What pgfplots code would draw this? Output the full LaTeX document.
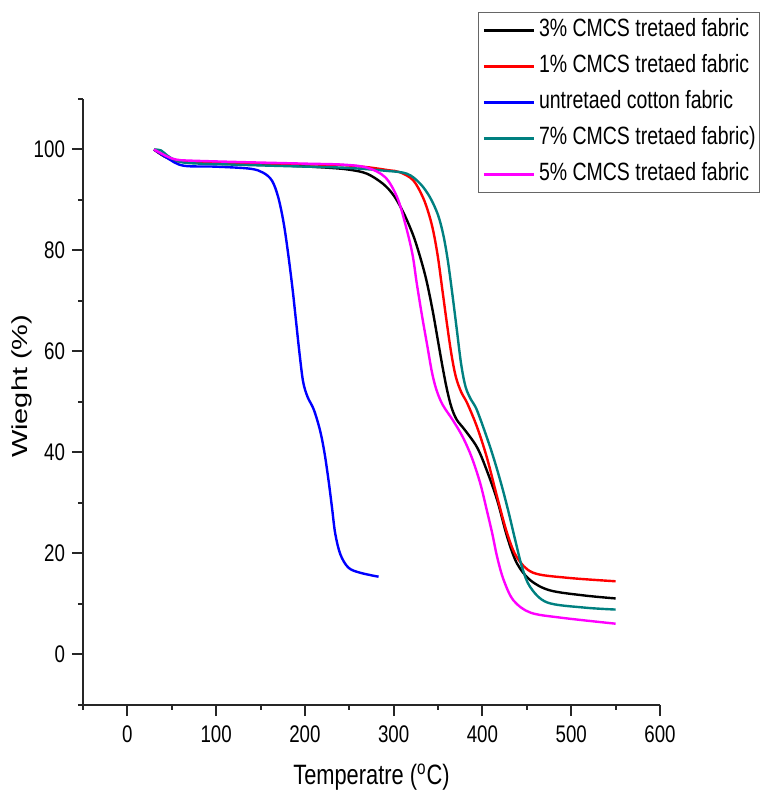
\documentclass[border=0pt]{standalone}
\usepackage{fontspec}
\setmainfont{Liberation Sans}[FakeStretch=0.78]
\newfontfamily\ylfont{Liberation Sans}
\usepackage{pgfplots}
\pgfplotsset{compat=1.18}

\definecolor{tealc}{RGB}{0,128,128}
\definecolor{magc}{RGB}{255,0,255}

\begin{document}
\begin{tikzpicture}
\begin{axis}[
    scale only axis,
    width=288.5pt, height=303pt,
    xmin=-50, xmax=600,
    ymin=-10, ymax=110,
    axis x line*=bottom, axis y line*=left,
    axis line style={-, line width=1pt, black!85},
    tick align=outside,
    tick style={line width=1pt, black!85},
    major tick length=5.5pt,
    minor tick length=2.5pt,
    xtick={0,100,...,600},
    ytick={0,20,...,100},
    minor xtick={-50,50,...,550},
    minor ytick={-10,10,...,110},
    /pgf/number format/assume math mode=true,
    tick label style={font=\fontsize{12}{14}\selectfont},
    xticklabel style={yshift=-1.5pt},
    xlabel={Temperatre (\textsuperscript{o}C)},
    ylabel={Wieght (\%)},
    xlabel style={at={(axis description cs:0.5,-0.119)}, anchor=center,
        font=\fontsize{14}{16}\selectfont},
    ylabel style={at={(axis description cs:-0.106,0.526)}, anchor=center,
        rotate=0, yscale=0.75, font=\ylfont\fontsize{14.5}{16}\selectfont},
    legend cell align=left,
    legend image code/.code={\draw[#1] (0pt,0pt) -- (25pt,0pt);},
    legend style={at={(axis description cs:0.6846,1.1436)}, anchor=north west,
        draw=black!60, line width=0.6pt,
        font=\fontsize{12.5}{15}\selectfont,
        inner xsep=2pt, inner ysep=3pt,
        row sep=6pt, column sep=2pt,
        nodes={inner sep=0pt, text height=9pt, text depth=3pt}},
    every axis plot/.append style={line width=1.2pt, smooth, tension=0.55},
]
\coordinate (bl) at (rel axis cs:0,0);

% 3% CMCS
\addplot[black] coordinates {
(30,100) (42,98.6) (55,97.8) (80,97.4) (120,97.1) (180,96.8) (225,96.4)
(250,96.0) (270,95.2) (288,93.2) (300,90.9) (311,87.5) (322,83) (330,78.6)
(337,74) (344,68) (350,62) (355,57) (360,52.5) (365,49) (371,46.5)
(380,44.5) (394,41) (405,36.4) (416.7,30.5) (428,23.2) (439,18) (454,14.7)
(476,12.7) (514,11.7) (550,11.1)};

% 1% CMCS
\addplot[red] coordinates {
(30,100) (40,98.8) (50,98) (60,97.6) (100,97.4) (160,97.2) (220,97.0)
(243,96.9) (270,96.5) (294,95.9) (307,95.5) (322,93.9) (333,90.5)
(340,87) (345,83.5) (350,78.5) (355,72) (360,65.5) (365,59.5) (370,55)
(376,52) (383,49.7) (394,45) (405,39) (416.7,31.1) (428,23.9)
(439,19.2) (457,16.2) (495,15.2) (550,14.5)};

% untreated
\addplot[blue] coordinates {
(30,100) (45,98.3) (63,96.8) (100,96.6) (138,96.2) (153,95.4) (163,93.8)
(170,90.5) (176,85.5) (181,79.5) (186,72.5) (190,66) (194,59.5)
(198,54) (203,51) (210,48.5) (217,44.4) (222,40) (226.6,34.5)
(230.5,29.1) (234.2,23.9) (240,19.8) (249,17.2) (262,16.2) (283,15.4)};

% 7% CMCS
\addplot[tealc] coordinates {
(30,100) (38,99.8) (45,98.8) (55,97.8) (70,97.3) (120,97.0) (180,96.7)
(243,96.4) (290,95.8) (315,95.2) (330,93.2) (341,90.5) (350,87)
(356,83) (361,78) (366,71.5) (371,64.5) (376,57.5) (381,53)
(387,50.5) (394,48.3) (408.8,41) (420,34.5) (429,28.5) (437,22.6)
(444.8,17.2) (454,13.3) (473,10.3) (514,9.3) (550,8.9)};

% 5% CMCS
\addplot[magc] coordinates {
(30,100) (45,98.6) (55,98.0) (70,97.8) (130,97.5) (200,97.2) (243,97.0)
(270,96.4) (290.5,94.5) (304,90.5) (313,85.3) (321,79.4) (326,73.5)
(332,67) (338,61) (343,56) (348,52.5) (355,49.5) (367,46.3)
(378,43) (388,39) (397.5,33.9) (405,28.5) (411,24) (416.7,19.2)
(424,14.7) (435,10.7) (454,8.3) (488,7.3) (550,6.1)};

\legend{3\% CMCS tretaed fabric, 1\% CMCS tretaed fabric,
untretaed cotton fabric, 7\% CMCS tretaed fabric),
5\% CMCS tretaed fabric}
\end{axis}
\pgfresetboundingbox
\path (bl) ++(-41.5pt,-43.5pt) rectangle ++(382pt,396pt);
\end{tikzpicture}
\end{document}
